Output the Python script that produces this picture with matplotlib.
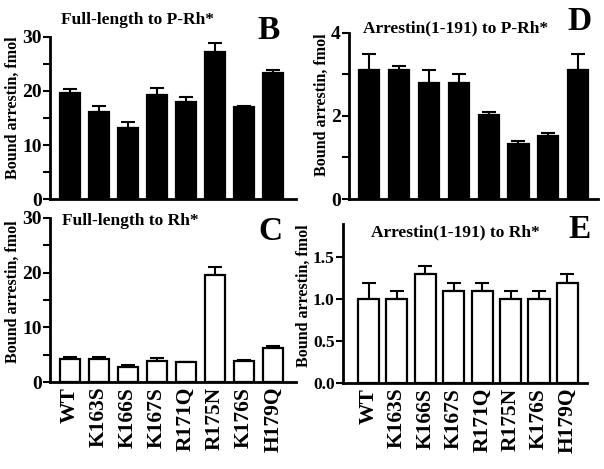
import matplotlib
matplotlib.use("Agg")
import matplotlib.pyplot as plt
import numpy as np
from matplotlib.ticker import MultipleLocator

plt.rcParams['font.family'] = ['Liberation Serif', 'DejaVu Serif']
plt.rcParams['font.weight'] = 'bold'

mutants = ["WT", "K163S", "K166S", "K167S", "R171Q", "R175N", "K176S", "H179Q"]

fl_prh = [19.6, 16.2, 13.2, 19.3, 17.9, 27.2, 17.0, 23.3]
fl_prh_err = [0.8, 1.1, 1.0, 1.2, 0.9, 1.7, 0.2, 0.5]

fl_rh = [4.2, 4.2, 2.7, 3.9, 3.6, 19.6, 3.9, 6.3]
fl_rh_err = [0.3, 0.4, 0.4, 0.4, 0.1, 1.4, 0.2, 0.3]

tr_prh = [3.1, 3.1, 2.8, 2.8, 2.02, 1.33, 1.51, 3.1]
tr_prh_err = [0.4, 0.1, 0.3, 0.2, 0.08, 0.07, 0.08, 0.4]

tr_rh = [1.0, 1.0, 1.3, 1.1, 1.1, 1.0, 1.0, 1.2]
tr_rh_err = [0.2, 0.1, 0.1, 0.1, 0.1, 0.1, 0.1, 0.1]

W, H = 604, 469
fig = plt.figure(figsize=(W / 100, H / 100), dpi=100)


def box(l, r, t, b):
    return [l / W, 1 - b / H, (r - l) / W, (b - t) / H]


def panel(rect, vals, errs, filled, ylim, major, minor, xlim, width, fmt, show_x, tsize):
    ax = fig.add_axes(box(*rect))
    x = np.arange(len(vals))
    ax.bar(x, vals, width=width, color='black' if filled else 'white',
           edgecolor='black', linewidth=1.6, zorder=2)
    ax.errorbar(x, vals, yerr=[np.zeros(len(errs)), errs], fmt='none',
                ecolor='black', elinewidth=1.5, capsize=5, capthick=1.5, zorder=1)
    ax.set_ylim(*ylim)
    ax.set_xlim(*xlim)
    ax.yaxis.set_major_locator(MultipleLocator(major))
    if minor:
        ax.yaxis.set_minor_locator(MultipleLocator(minor))
    ax.yaxis.set_major_formatter(matplotlib.ticker.FormatStrFormatter(fmt))
    for s in ['top', 'right']:
        ax.spines[s].set_visible(False)
    for s in ['left', 'bottom']:
        ax.spines[s].set_linewidth(2)
    ax.tick_params(axis='y', which='major', length=5, width=1.5, labelsize=tsize, pad=1)
    ax.tick_params(axis='y', which='minor', length=5, width=1.5)
    ax.tick_params(axis='x', length=0)
    if show_x:
        ax.set_xticks(x)
        ax.set_xticklabels(mutants, rotation=90, fontsize=15.5, fontweight='bold')
    else:
        ax.set_xticks([])
    for lab in ax.get_yticklabels():
        lab.set_fontweight('bold')
    return ax


panel((50, 296, 37, 199), fl_prh, fl_prh_err, True, (0, 30), 10, 5,
      (-0.69, 7.79), 0.69, '%d', False, 14)
panel((50, 296, 218, 382), fl_rh, fl_rh_err, False, (0, 30), 10, 5,
      (-0.69, 7.79), 0.69, '%d', True, 14)
panel((349, 598, 33, 199), tr_prh, tr_prh_err, True, (0, 4), 2, 1,
      (-0.67, 7.66), 0.67, '%d', False, 14)
panel((343, 587, 224, 383), tr_rh, tr_rh_err, False, (0, 1.9), 0.5, None,
      (-0.9, 7.69), 0.74, '%.1f', True, 12.5)


def ftext(x, y, s, size, **kw):
    fig.text(x / W, 1 - y / H, s, fontsize=size, fontweight='bold', **kw)


ylab = "Bound arrestin, fmol"
ftext(13, 108, ylab, 11.5, rotation=90, ha='center', va='center')
ftext(13, 292, ylab, 11.5, rotation=90, ha='center', va='center')
ftext(322, 105, ylab, 11.5, rotation=90, ha='center', va='center')
ftext(304, 296, ylab, 11.5, rotation=90, ha='center', va='center')

ftext(61, 20, "Full-length to P-Rh*", 12.5, ha='left', va='center')
ftext(62, 221, "Full-length to Rh*", 12.5, ha='left', va='center')
ftext(363, 28, "Arrestin(1-191) to P-Rh*", 12.5, ha='left', va='center')
ftext(371, 232, "Arrestin(1-191) to Rh*", 12.5, ha='left', va='center')

ftext(269, 30, "B", 24, ha='center', va='center')
ftext(270, 231, "C", 24, ha='center', va='center')
ftext(579, 22, "D", 24, ha='center', va='center')
ftext(580, 230, "E", 24, ha='center', va='center')

fig.savefig("out.png", dpi=100)
